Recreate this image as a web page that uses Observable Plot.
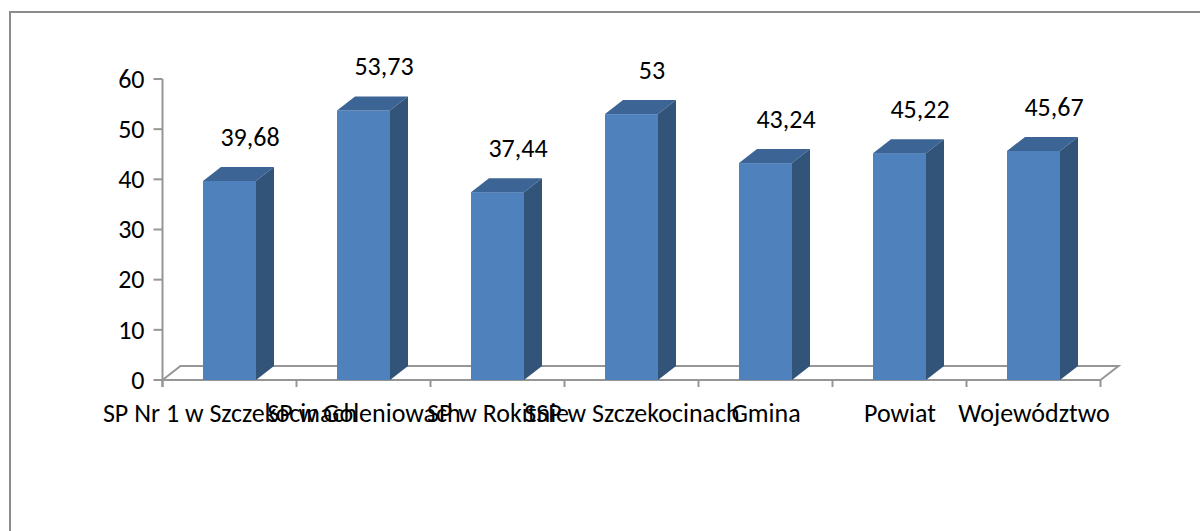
<!DOCTYPE html>
<html><head><meta charset="utf-8">
<script src="https://cdn.jsdelivr.net/npm/d3@7"></script>
<script src="https://cdn.jsdelivr.net/npm/@observablehq/plot@0.6"></script>
<style>
html,body{margin:0;background:#fff;overflow:hidden}
#wrap{position:relative;width:1200px;height:531px;overflow:hidden}
#frame{position:absolute;left:9px;top:11px;width:1191px;height:520px;border-top:2px solid #8c8c8c;border-left:2px solid #8c8c8c;box-sizing:border-box}
#chart{position:absolute;left:0;top:0;width:1200px;height:531px}
</style></head><body><div id="wrap"><div id="frame"></div><div id="chart"></div></div>
<script>
const categories = ["SP Nr 1 w Szczekocinach", "SP w Goleniowach", "SP w Rokitnie", "SSP w Szczekocinach", "Gmina", "Powiat", "Województwo"];
const values = [39.68, 53.73, 37.44, 53, 43.24, 45.22, 45.67];
const valueLabels = ["39,68", "53,73", "37,44", "53", "43,24", "45,22", "45,67"];
const yTicks = [0, 10, 20, 30, 40, 50, 60];

const data = categories.map((c, i) => ({category: c, value: values[i], label: valueLabels[i]}));

const DX = 18, DY = -14;           // 3D depth offset in pixels (styling)
const FONT = "Carlito, Calibri, Lato, sans-serif";
const FS = 26;
const GRID = "#969696";

function bw(x) { return typeof x.bandwidth === "function" ? x.bandwidth() : x.bandwidth; }
function st(x) { return typeof x.step === "function" ? x.step() : x.step; }

function floorAndAxes(index, scales) {
  const x = scales.x, y = scales.y;
  const step = st(x), b = bw(x);
  const left = x(categories[0]) - (step - b) / 2;
  const right = left + step * categories.length;
  const y0 = y(0);
  const g = d3.create("svg:g").attr("fill", "none").attr("stroke", GRID).attr("stroke-width", 2);
  g.append("path").attr("d", `M${left},${y0}L${left + DX},${y0 + DY}L${right + DX},${y0 + DY}L${right},${y0}`);
  g.append("line").attr("x1", left).attr("x2", right).attr("y1", y0).attr("y2", y0);
  g.append("line").attr("x1", left).attr("x2", left).attr("y1", y0 + 7).attr("y2", y(yTicks[yTicks.length - 1]));
  for (const t of yTicks) {
    g.append("line").attr("x1", left - 9).attr("x2", left).attr("y1", y(t)).attr("y2", y(t));
  }
  for (let i = 0; i <= categories.length; i++) {
    const xx = left + i * step;
    g.append("line").attr("x1", xx).attr("x2", xx).attr("y1", y0).attr("y2", y0 + 7);
  }
  return g.node();
}

function barFaces(index, scales) {
  const x = scales.x, y = scales.y;
  const b = bw(x);
  const g = d3.create("svg:g");
  for (const d of data) {
    const xl = x(d.category), xr = xl + b, yt = y(d.value), yb = y(0);
    g.append("path").attr("fill", "#3c6494")
      .attr("d", `M${xl},${yt}L${xl + DX},${yt + DY}L${xr + DX},${yt + DY}L${xr},${yt}Z`);
    g.append("path").attr("fill", "#325479")
      .attr("d", `M${xr},${yt}L${xr + DX},${yt + DY}L${xr + DX},${yb + DY}L${xr},${yb}Z`);
  }
  return g.node();
}

const chart = Plot.plot({
  width: 1200,
  height: 531,
  marginLeft: 161,
  marginRight: 99,
  marginTop: 79,
  marginBottom: 151,
  style: {fontFamily: FONT, fontSize: FS + "px", color: "#000", background: "transparent", overflow: "visible"},
  x: {domain: categories, paddingInner: 0.605, paddingOuter: 0.3025, axis: null},
  y: {domain: [0, 60], ticks: yTicks.length - 1, tickSize: 0, tickPadding: 17, label: null, tickFormat: d => String(d)},
  marks: [
    floorAndAxes,
    Plot.barY(data, {x: "category", y: "value", fill: "#4f81bd"}),
    barFaces,
    Plot.text(data, {x: "category", y: "value", text: "label", dx: 20, dy: -44, fontSize: FS, fill: "#000"}),
    Plot.text(data, {x: "category", y: d => 0, text: "category", dy: 33, fontSize: FS, fill: "#000"})
  ]
});
document.getElementById("chart").appendChild(chart);
</script></body></html>
